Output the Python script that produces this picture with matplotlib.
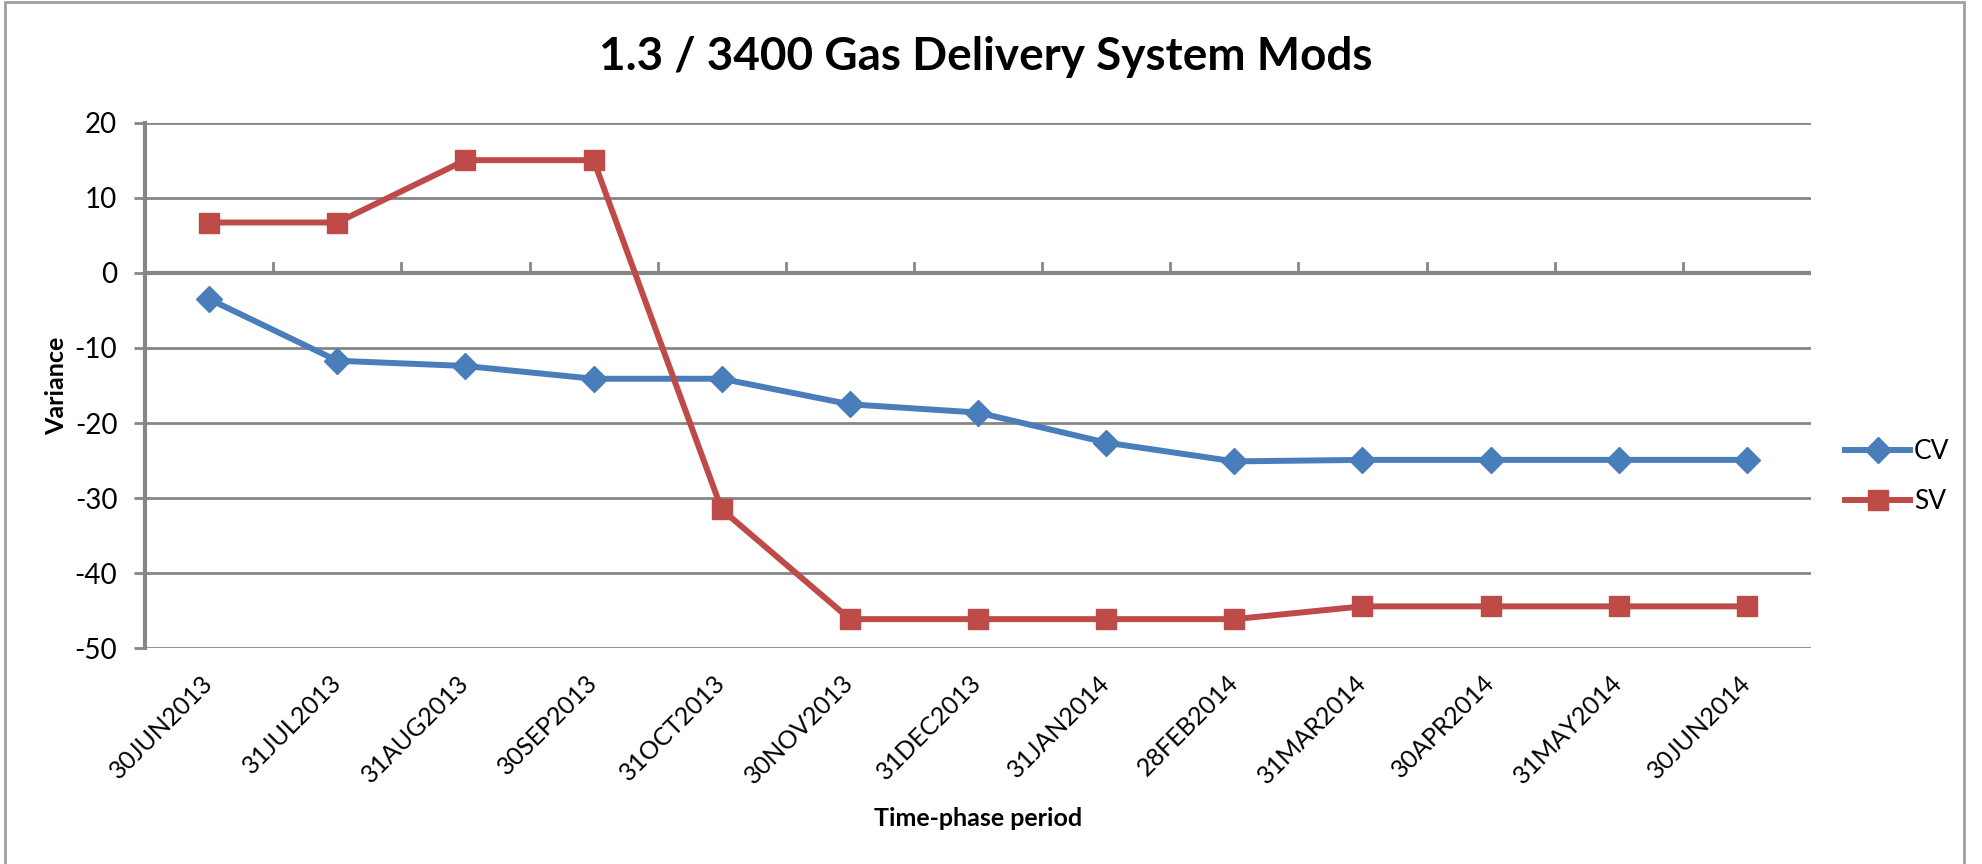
import matplotlib
matplotlib.use("Agg")
import matplotlib.pyplot as plt
from matplotlib.patches import Rectangle

# values
periods = ["30JUN2013", "31JUL2013", "31AUG2013", "30SEP2013", "31OCT2013",
           "30NOV2013", "31DEC2013", "31JAN2014", "28FEB2014", "31MAR2014",
           "30APR2014", "31MAY2014", "30JUN2014"]
cv = [-3.5, -11.7, -12.4, -14.1, -14.1, -17.5, -18.6, -22.6, -25.1, -24.9, -24.9, -24.9, -24.9]
sv = [6.7, 6.7, 15.0, 15.0, -31.5, -46.1, -46.1, -46.1, -46.1, -44.4, -44.4, -44.4, -44.4]
y_ticks = [20, 10, 0, -10, -20, -30, -40, -50]

plt.rcParams['font.family'] = ['Lato', 'DejaVu Sans']
plt.rcParams['axes.unicode_minus'] = False

grid_color = "#868686"
cv_color = "#4A7EBB"
sv_color = "#BE4B48"

fig = plt.figure(figsize=(19.82, 8.64), dpi=100)
ax = fig.add_axes([0.0732, 0.2495, 0.8405, 0.6086])

x = list(range(len(periods)))
ax.plot(x, cv, color=cv_color, lw=4.3, marker="D", ms=13, label="CV", zorder=4)
ax.plot(x, sv, color=sv_color, lw=4.3, marker="s", ms=14, label="SV", zorder=4)

ax.set_xlim(-0.5, len(periods) - 0.5)
ax.set_ylim(-50, 20)
ax.set_yticks(y_ticks)
ax.yaxis.grid(True, color=grid_color, lw=2)
ax.set_axisbelow(True)

for side in ["top", "right", "bottom"]:
    ax.spines[side].set_visible(False)
ax.spines["left"].set_color(grid_color)
ax.spines["left"].set_linewidth(3)

# category axis sits on zero, tick marks between categories
ax.axhline(0, color=grid_color, lw=3, zorder=2)
for b in range(1, len(periods)):
    ax.plot([b - 0.5, b - 0.5], [0, 1.25], color=grid_color, lw=2, zorder=2)

ax.set_xticks(x)
ax.set_xticklabels(periods, rotation=45, ha="right", va="center",
                   rotation_mode="anchor", fontsize=18)
ax.tick_params(axis="x", length=0, pad=22)
ax.tick_params(axis="y", length=8, width=2, color=grid_color, pad=12, labelsize=20)

fig.text(0.4975, 0.934, "1.3 / 3400 Gas Delivery System Mods", ha="center", va="center",
         fontsize=33, fontweight="bold")
fig.text(0.0288, 0.553, "Variance", rotation=90, ha="center", va="center",
         fontsize=18, fontweight="bold")
fig.text(0.4935, 0.053, "Time-phase period", ha="center", va="center",
         fontsize=18, fontweight="bold")

fig.legend(loc="center left", bbox_to_anchor=(0.931, 0.448), frameon=False,
           fontsize=19, handlelength=2.45, handletextpad=0.15, labelspacing=0.95,
           borderpad=0, borderaxespad=0)

fig.patches.append(Rectangle((0.0025, -0.01), 0.9885, 1.0075, transform=fig.transFigure,
                             fill=False, edgecolor="#A0A0A0", lw=2))

fig.savefig("out.png", dpi=100)
